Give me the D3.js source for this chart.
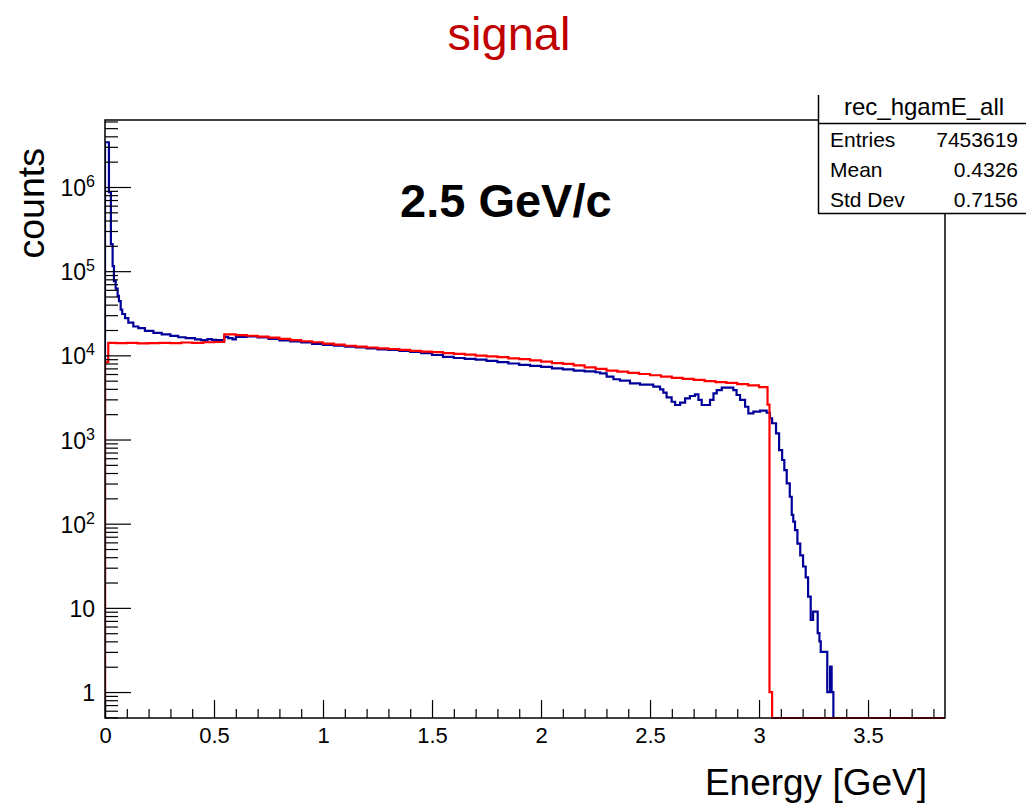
<!DOCTYPE html>
<html>
<head>
<meta charset="utf-8">
<script src="https://cdn.jsdelivr.net/npm/d3@7"></script>
<style>
  html, body { margin: 0; padding: 0; background: #fff; }
  svg { display: block; font-family: "Liberation Sans", Arial, Helvetica, sans-serif; }
</style>
</head>
<body>
<svg id="chart" width="1026" height="806"></svg>
<script>
// ---------------- data ----------------
const chartTitle = "signal";
const annotation = "2.5 GeV/c";
const xTitle = "Energy [GeV]";
const yTitle = "counts";
const statName = "rec_hgamE_all";
const statLabels = ["Entries", "Mean", "Std Dev"];
const statValues = ["7453619", "0.4326", "0.7156"];

const xMajorTicks = [0, 0.5, 1, 1.5, 2, 2.5, 3, 3.5];
const yDecadeTicks = [1, 10, 100, 1e3, 1e4, 1e5, 1e6];
const xDomain = [0, 3.853];
const yDomain = [0.4916, 6.25e6];

// blue histogram (reconstructed): bin lower edges + counts; last edge closes the final bin
const blueEdges = [0, 0.018, 0.027, 0.035, 0.041, 0.049, 0.058, 0.064, 0.072, 0.079, 0.092,
  0.107, 0.13, 0.153, 0.183, 0.222, 0.26, 0.30, 0.336, 0.37, 0.413, 0.44, 0.459, 0.47, 0.49,
  0.51, 0.547, 0.565, 0.585, 0.60, 0.65, 0.70, 0.75, 0.80, 0.85, 0.90, 0.95, 1.00, 1.05, 1.10,
  1.15, 1.20, 1.25, 1.30, 1.35, 1.40, 1.45, 1.50, 1.55, 1.60, 1.65, 1.70, 1.75, 1.80, 1.85,
  1.90, 1.95, 2.00, 2.05, 2.10, 2.15, 2.20, 2.25, 2.271, 2.301, 2.332, 2.362, 2.408, 2.454,
  2.515, 2.546, 2.561, 2.576, 2.599, 2.615, 2.638, 2.661, 2.683, 2.706, 2.722, 2.737, 2.775,
  2.791, 2.806, 2.829, 2.882, 2.897, 2.913, 2.936, 2.951, 2.974, 3.005, 3.035, 3.05, 3.06,
  3.078, 3.092, 3.106, 3.116, 3.127, 3.141, 3.150, 3.157, 3.165, 3.176, 3.189, 3.202, 3.214,
  3.225, 3.237, 3.248, 3.269, 3.277, 3.283, 3.313, 3.326, 3.333, 3.341];
const blueCounts = [3.4e6, 8.7e5, 2.1e5, 1.15e5, 7.6e4, 6.2e4, 5.1e4, 4.4e4, 3.5e4, 3.1e4,
  2.77e4, 2.45e4, 2.2e4, 2.1e4, 1.95e4, 1.85e4, 1.77e4, 1.7e4, 1.64e4, 1.6e4, 1.55e4, 1.52e4,
  1.49e4, 1.56e4, 1.53e4, 1.52e4, 1.66e4, 1.6e4, 1.55e4, 1.66e4, 1.68e4, 1.63e4, 1.57e4,
  1.5e4, 1.46e4, 1.42e4, 1.37e4, 1.33e4, 1.30e4, 1.27e4, 1.24e4, 1.21e4, 1.18e4, 1.16e4,
  1.13e4, 1.10e4, 1.06e4, 1.01e4, 9.6e3, 9.3e3, 9.1e3, 8.9e3, 8.6e3, 8.3e3, 8.0e3, 7.7e3,
  7.5e3, 7.3e3, 7.0e3, 6.8e3, 6.6e3, 6.45e3, 6.3e3, 6.1e3, 5.6e3, 5.2e3, 5.0e3, 4.65e3,
  4.5e3, 4.24e3, 3.94e3, 3.6e3, 3.17e3, 2.81e3, 2.57e3, 2.74e3, 3.08e3, 3.29e3, 3.44e3,
  2.95e3, 2.57e3, 2.95e3, 3.54e3, 3.87e3, 4.13e3, 3.87e3, 3.38e3, 2.95e3, 2.45e3, 2.05e3,
  2.14e3, 2.2e3, 2.08e3, 1.79e3, 1.56e3, 1.18e3, 750, 571, 434, 301, 209, 127, 106, 84, 58,
  42, 31, 23, 13.6, 7.2, 9, 5, 4, 3, 1, 2, 1];

// red histogram (true): bin edges + counts
const redEdges = [0, 0.015, 0.05, 0.10, 0.15, 0.20, 0.25, 0.30, 0.35, 0.40, 0.45, 0.50, 0.547,
  0.60, 0.65, 0.70, 0.75, 0.80, 0.85, 0.90, 0.95, 1.00, 1.05, 1.10, 1.15, 1.20, 1.25, 1.30,
  1.35, 1.40, 1.45, 1.50, 1.55, 1.60, 1.65, 1.70, 1.75, 1.80, 1.85, 1.90, 1.95, 2.00, 2.05,
  2.10, 2.15, 2.20, 2.25, 2.30, 2.35, 2.40, 2.45, 2.50, 2.55, 2.60, 2.65, 2.70, 2.75, 2.80,
  2.85, 2.90, 2.95, 3.00, 3.039, 3.048, 3.06];
const redCounts = [8300, 1.41e4, 1.40e4, 1.41e4, 1.39e4, 1.40e4, 1.41e4, 1.40e4, 1.42e4,
  1.41e4, 1.43e4, 1.44e4, 1.77e4, 1.74e4, 1.71e4, 1.67e4, 1.62e4, 1.57e4, 1.52e4, 1.47e4,
  1.43e4, 1.38e4, 1.34e4, 1.30e4, 1.27e4, 1.24e4, 1.21e4, 1.19e4, 1.16e4, 1.13e4, 1.11e4,
  1.09e4, 1.06e4, 1.04e4, 1.02e4, 9.9e3, 9.7e3, 9.5e3, 9.2e3, 9.0e3, 8.7e3, 8.4e3, 8.1e3,
  7.9e3, 7.6e3, 7.2e3, 6.9e3, 6.6e3, 6.4e3, 6.2e3, 6.0e3, 5.8e3, 5.6e3, 5.4e3, 5.25e3,
  5.1e3, 4.95e3, 4.8e3, 4.7e3, 4.55e3, 4.4e3, 4.2e3, 2.6e3, 1.0];

// ---------------- layout ----------------
const frame = { left: 105, right: 945, top: 120, bottom: 718 };
const svg = d3.select("#chart");
svg.append("rect").attr("width", 1026).attr("height", 806).attr("fill", "#fff");

const x = d3.scaleLinear().domain(xDomain).range([frame.left, frame.right]);
const y = d3.scaleLog().domain(yDomain).range([frame.bottom, frame.top]);

svg.append("clipPath").attr("id", "plotclip")
  .append("rect").attr("x", frame.left).attr("y", frame.top - 1)
  .attr("width", frame.right - frame.left + 1).attr("height", frame.bottom - frame.top + 2);

// histogram outline as step path
function stepPoints(edges, counts) {
  const pts = [[edges[0], 0]];
  counts.forEach((c, i) => { pts.push([edges[i], c]); pts.push([edges[i + 1], c]); });
  pts.push([edges[edges.length - 1], 0]);
  pts.push([xDomain[1], 0]);
  return pts;
}
const line = d3.line()
  .x(d => x(d[0]))
  .y(d => d[1] > 0 ? y(d[1]) : frame.bottom);

const plot = svg.append("g").attr("clip-path", "url(#plotclip)");
plot.append("path").datum(stepPoints(blueEdges, blueCounts))
  .attr("d", line).attr("fill", "none").attr("stroke", "#000099").attr("stroke-width", 2.2)
  .attr("stroke-linejoin", "miter");
plot.append("path").datum(stepPoints(redEdges, redCounts))
  .attr("d", line).attr("fill", "none").attr("stroke", "#ff0000").attr("stroke-width", 2.2)
  .attr("stroke-linejoin", "miter");

// ---------------- axes ----------------
const xMinor = d3.range(1, 39).map(i => i / 10).filter(v => v <= xDomain[1] && Math.abs(v * 2 - Math.round(v * 2)) > 1e-6);
const gx = svg.append("g").attr("transform", `translate(0,${frame.bottom})`);
gx.call(d3.axisBottom(x).tickValues(xMajorTicks).tickSize(-18).tickPadding(9)
  .tickFormat(d => d3.format("~g")(d)));
gx.append("g").call(d3.axisBottom(x).tickValues(xMinor).tickSize(-9).tickFormat(""));
gx.selectAll(".domain").remove();
gx.selectAll("line").attr("stroke", "#000").attr("stroke-width", 1.2);
gx.selectAll("text").attr("font-size", 22).attr("fill", "#000")
  .attr("font-family", "Liberation Sans, Arial, sans-serif");

const yMinor = [];
[0.1, 1, 10, 100, 1e3, 1e4, 1e5, 1e6].forEach(d => {
  for (let k = 2; k <= 9; k++) {
    const v = k * d;
    if (v >= yDomain[0] && v <= yDomain[1]) yMinor.push(v);
  }
});
const gy = svg.append("g").attr("transform", `translate(${frame.left},0)`);
gy.call(d3.axisLeft(y).tickValues(yDecadeTicks).tickSize(-26).tickFormat(""));
gy.append("g").call(d3.axisLeft(y).tickValues(yMinor).tickSize(-13).tickFormat(""));
gy.selectAll(".domain").remove();
gy.selectAll("line").attr("stroke", "#000").attr("stroke-width", 1.2);

// y labels: 1, 10, then 10^n
const ylab = svg.append("g").attr("font-size", 23).attr("fill", "#000").attr("text-anchor", "end");
yDecadeTicks.forEach(v => {
  const e = Math.round(Math.log10(v));
  const t = ylab.append("text").attr("x", 95).attr("y", y(v) + 9);
  if (e <= 1) { t.text(String(v)); }
  else {
    t.append("tspan").text("10");
    t.append("tspan").attr("font-size", 16).attr("dy", -9).text(String(e));
  }
});

// frame
svg.append("rect").attr("x", frame.left).attr("y", frame.top)
  .attr("width", frame.right - frame.left).attr("height", frame.bottom - frame.top)
  .attr("fill", "none").attr("stroke", "#000").attr("stroke-width", 1.5);

// ---------------- texts ----------------
svg.append("text").attr("x", 509).attr("y", 50).attr("text-anchor", "middle")
  .attr("font-size", 47).attr("fill", "#c00000").text(chartTitle);

svg.append("text").attr("x", 400).attr("y", 217).attr("font-size", 47)
  .attr("font-weight", "bold").attr("fill", "#000").text(annotation);

svg.append("text").attr("x", 927).attr("y", 795).attr("text-anchor", "end")
  .attr("font-size", 37).attr("fill", "#000").text(xTitle);

svg.append("text").attr("transform", "translate(44,148) rotate(-90)")
  .attr("text-anchor", "end").attr("font-size", 37.5).attr("fill", "#000").text(yTitle);

// ---------------- stats box ----------------
const box = svg.append("g");
box.append("rect").attr("x", 818).attr("y", 88).attr("width", 210).attr("height", 125)
  .attr("fill", "#fff");
box.append("line").attr("x1", 818.5).attr("x2", 818.5).attr("y1", 95).attr("y2", 213.5)
  .attr("stroke", "#000").attr("stroke-width", 1.5);
box.append("line").attr("x1", 818).attr("x2", 1026).attr("y1", 213.5).attr("y2", 213.5)
  .attr("stroke", "#000").attr("stroke-width", 1.5);
box.append("line").attr("x1", 818).attr("x2", 1026).attr("y1", 123.5).attr("y2", 123.5)
  .attr("stroke", "#000").attr("stroke-width", 1.5);
box.append("text").attr("x", 924).attr("y", 115).attr("text-anchor", "middle")
  .attr("font-size", 24).attr("fill", "#000").text(statName);
statLabels.forEach((s, i) => {
  box.append("text").attr("x", 830).attr("y", 147 + 30 * i).attr("font-size", 21)
    .attr("fill", "#000").text(s);
  box.append("text").attr("x", 1018).attr("y", 147 + 30 * i).attr("font-size", 21)
    .attr("text-anchor", "end").attr("fill", "#000").text(statValues[i]);
});
</script>
</body>
</html>
